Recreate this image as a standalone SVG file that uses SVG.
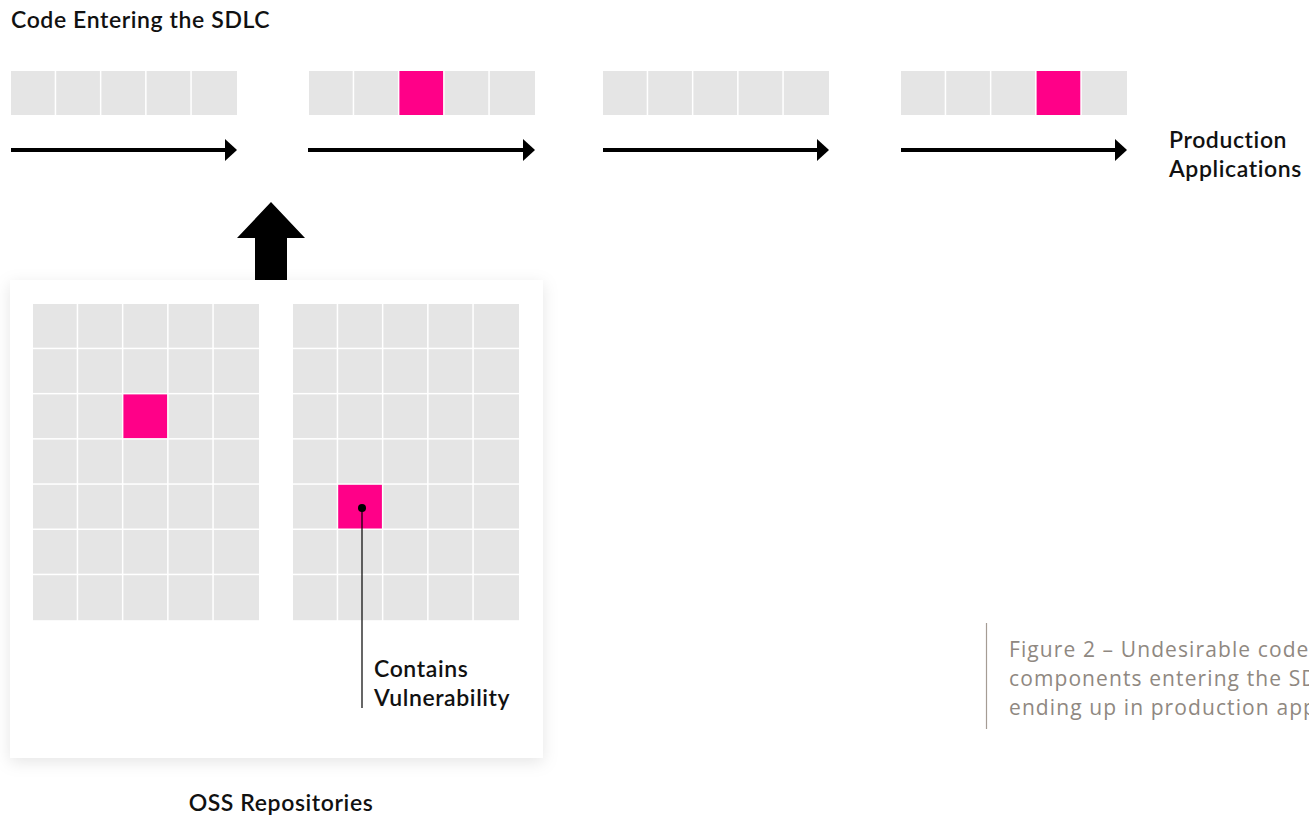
<svg xmlns="http://www.w3.org/2000/svg" width="1309" height="817" viewBox="0 0 1309 817">
  <style>
    .c { fill: #e5e5e5; }
    .p { fill: #ff0088; }
    .lbl { font-family: Lato, "Liberation Sans", sans-serif; font-weight: 600; font-size: 23px; letter-spacing: 0.6px; fill: #111111; }
    .cap { font-family: "Open Sans", "Liberation Sans", sans-serif; font-weight: 400; font-size: 21px; letter-spacing: 1.1px; fill: #8f8881; }
    .flow { stroke: #000000; stroke-width: 4; fill: none; }
  </style>
  <defs>
    <marker id="ah" markerUnits="userSpaceOnUse" markerWidth="12" markerHeight="22" refX="0" refY="11" orient="auto" viewBox="0 0 12 22">
      <path d="M0,0 L12,11 L0,22 Z" fill="#000000"/>
    </marker>
    <filter id="sh" x="-10%" y="-10%" width="120%" height="125%">
      <feDropShadow dx="0" dy="4" stdDeviation="8" flood-color="#000000" flood-opacity="0.10"/>
    </filter>
  </defs>
  <rect width="1309" height="817" fill="#ffffff"/>

  <text id="title" class="lbl" x="11" y="28">Code Entering the SDLC</text>

  <g id="stage1">
    <rect class="c" x="11" y="71" width="43.7" height="44"/>
    <rect class="c" x="56.2" y="71" width="43.7" height="44"/>
    <rect class="c" x="101.4" y="71" width="43.7" height="44"/>
    <rect class="c" x="146.6" y="71" width="43.7" height="44"/>
    <rect class="c" x="191.8" y="71" width="45.2" height="44"/>
  </g>
  <g id="stage2">
    <rect class="c" x="309" y="71" width="43.7" height="44"/>
    <rect class="c" x="354.2" y="71" width="43.7" height="44"/>
    <rect class="p" x="399.4" y="71" width="43.7" height="44"/>
    <rect class="c" x="444.6" y="71" width="43.7" height="44"/>
    <rect class="c" x="489.8" y="71" width="45.2" height="44"/>
  </g>
  <g id="stage3">
    <rect class="c" x="603" y="71" width="43.7" height="44"/>
    <rect class="c" x="648.2" y="71" width="43.7" height="44"/>
    <rect class="c" x="693.4" y="71" width="43.7" height="44"/>
    <rect class="c" x="738.6" y="71" width="43.7" height="44"/>
    <rect class="c" x="783.8" y="71" width="45.2" height="44"/>
  </g>
  <g id="stage4">
    <rect class="c" x="901" y="71" width="43.7" height="44"/>
    <rect class="c" x="946.2" y="71" width="43.7" height="44"/>
    <rect class="c" x="991.4" y="71" width="43.7" height="44"/>
    <rect class="p" x="1036.6" y="71" width="43.7" height="44"/>
    <rect class="c" x="1081.8" y="71" width="45.2" height="44"/>
  </g>

  <g id="production">
    <text class="lbl" x="1169" y="148">Production</text>
    <text class="lbl" x="1169" y="177">Applications</text>
  </g>

  <g id="connectors">
    <line class="flow" x1="11" y1="150" x2="225" y2="150" marker-end="url(#ah)"/>
    <line class="flow" x1="308" y1="150" x2="523" y2="150" marker-end="url(#ah)"/>
    <line class="flow" x1="603" y1="150" x2="817" y2="150" marker-end="url(#ah)"/>
    <line class="flow" x1="901" y1="150" x2="1115" y2="150" marker-end="url(#ah)"/>
    <path id="up-arrow" d="M271,202 L305,238 L287,238 L287,281 L255,281 L255,238 L237,238 Z" fill="#000000"/>
  </g>

  <g id="oss">
    <rect x="10" y="280" width="533" height="478" fill="#ffffff" filter="url(#sh)"/>
    <g id="repo-left">
      <rect class="c" x="33" y="304" width="43.7" height="43.7"/>
      <rect class="c" x="78.2" y="304" width="43.7" height="43.7"/>
      <rect class="c" x="123.4" y="304" width="43.7" height="43.7"/>
      <rect class="c" x="168.6" y="304" width="43.7" height="43.7"/>
      <rect class="c" x="213.8" y="304" width="45.2" height="43.7"/>
      <rect class="c" x="33" y="349.2" width="43.7" height="43.7"/>
      <rect class="c" x="78.2" y="349.2" width="43.7" height="43.7"/>
      <rect class="c" x="123.4" y="349.2" width="43.7" height="43.7"/>
      <rect class="c" x="168.6" y="349.2" width="43.7" height="43.7"/>
      <rect class="c" x="213.8" y="349.2" width="45.2" height="43.7"/>
      <rect class="c" x="33" y="394.4" width="43.7" height="43.7"/>
      <rect class="c" x="78.2" y="394.4" width="43.7" height="43.7"/>
      <rect class="p" x="123.4" y="394.4" width="43.7" height="43.7"/>
      <rect class="c" x="168.6" y="394.4" width="43.7" height="43.7"/>
      <rect class="c" x="213.8" y="394.4" width="45.2" height="43.7"/>
      <rect class="c" x="33" y="439.6" width="43.7" height="43.7"/>
      <rect class="c" x="78.2" y="439.6" width="43.7" height="43.7"/>
      <rect class="c" x="123.4" y="439.6" width="43.7" height="43.7"/>
      <rect class="c" x="168.6" y="439.6" width="43.7" height="43.7"/>
      <rect class="c" x="213.8" y="439.6" width="45.2" height="43.7"/>
      <rect class="c" x="33" y="484.8" width="43.7" height="43.7"/>
      <rect class="c" x="78.2" y="484.8" width="43.7" height="43.7"/>
      <rect class="c" x="123.4" y="484.8" width="43.7" height="43.7"/>
      <rect class="c" x="168.6" y="484.8" width="43.7" height="43.7"/>
      <rect class="c" x="213.8" y="484.8" width="45.2" height="43.7"/>
      <rect class="c" x="33" y="530" width="43.7" height="43.7"/>
      <rect class="c" x="78.2" y="530" width="43.7" height="43.7"/>
      <rect class="c" x="123.4" y="530" width="43.7" height="43.7"/>
      <rect class="c" x="168.6" y="530" width="43.7" height="43.7"/>
      <rect class="c" x="213.8" y="530" width="45.2" height="43.7"/>
      <rect class="c" x="33" y="575.2" width="43.7" height="45"/>
      <rect class="c" x="78.2" y="575.2" width="43.7" height="45"/>
      <rect class="c" x="123.4" y="575.2" width="43.7" height="45"/>
      <rect class="c" x="168.6" y="575.2" width="43.7" height="45"/>
      <rect class="c" x="213.8" y="575.2" width="45.2" height="45"/>
    </g>
    <g id="repo-right">
      <rect class="c" x="293" y="304" width="43.7" height="43.7"/>
      <rect class="c" x="338.2" y="304" width="43.7" height="43.7"/>
      <rect class="c" x="383.4" y="304" width="43.7" height="43.7"/>
      <rect class="c" x="428.6" y="304" width="43.7" height="43.7"/>
      <rect class="c" x="473.8" y="304" width="45.2" height="43.7"/>
      <rect class="c" x="293" y="349.2" width="43.7" height="43.7"/>
      <rect class="c" x="338.2" y="349.2" width="43.7" height="43.7"/>
      <rect class="c" x="383.4" y="349.2" width="43.7" height="43.7"/>
      <rect class="c" x="428.6" y="349.2" width="43.7" height="43.7"/>
      <rect class="c" x="473.8" y="349.2" width="45.2" height="43.7"/>
      <rect class="c" x="293" y="394.4" width="43.7" height="43.7"/>
      <rect class="c" x="338.2" y="394.4" width="43.7" height="43.7"/>
      <rect class="c" x="383.4" y="394.4" width="43.7" height="43.7"/>
      <rect class="c" x="428.6" y="394.4" width="43.7" height="43.7"/>
      <rect class="c" x="473.8" y="394.4" width="45.2" height="43.7"/>
      <rect class="c" x="293" y="439.6" width="43.7" height="43.7"/>
      <rect class="c" x="338.2" y="439.6" width="43.7" height="43.7"/>
      <rect class="c" x="383.4" y="439.6" width="43.7" height="43.7"/>
      <rect class="c" x="428.6" y="439.6" width="43.7" height="43.7"/>
      <rect class="c" x="473.8" y="439.6" width="45.2" height="43.7"/>
      <rect class="c" x="293" y="484.8" width="43.7" height="43.7"/>
      <rect class="p" x="338.2" y="484.8" width="43.7" height="43.7"/>
      <rect class="c" x="383.4" y="484.8" width="43.7" height="43.7"/>
      <rect class="c" x="428.6" y="484.8" width="43.7" height="43.7"/>
      <rect class="c" x="473.8" y="484.8" width="45.2" height="43.7"/>
      <rect class="c" x="293" y="530" width="43.7" height="43.7"/>
      <rect class="c" x="338.2" y="530" width="43.7" height="43.7"/>
      <rect class="c" x="383.4" y="530" width="43.7" height="43.7"/>
      <rect class="c" x="428.6" y="530" width="43.7" height="43.7"/>
      <rect class="c" x="473.8" y="530" width="45.2" height="43.7"/>
      <rect class="c" x="293" y="575.2" width="43.7" height="45"/>
      <rect class="c" x="338.2" y="575.2" width="43.7" height="45"/>
      <rect class="c" x="383.4" y="575.2" width="43.7" height="45"/>
      <rect class="c" x="428.6" y="575.2" width="43.7" height="45"/>
      <rect class="c" x="473.8" y="575.2" width="45.2" height="45"/>
    </g>
    <g id="callout">
      <line x1="362" y1="508" x2="362" y2="708" stroke="#000000" stroke-width="1.2"/>
      <circle cx="362" cy="508" r="4" fill="#000000"/>
      <text class="lbl" x="374" y="677">Contains</text>
      <text class="lbl" x="374" y="706">Vulnerability</text>
    </g>
  </g>

  <text id="oss-label" class="lbl" x="281" y="811" text-anchor="middle">OSS Repositories</text>

  <g id="caption">
    <line x1="986.5" y1="623" x2="986.5" y2="729" stroke="#a59c94" stroke-width="1.2"/>
    <text class="cap" x="1009" y="657">Figure 2 – Undesirable code</text>
    <text class="cap" x="1009" y="686">components entering the SDLC and</text>
    <text class="cap" x="1009" y="715">ending up in production applications</text>
  </g>
</svg>
